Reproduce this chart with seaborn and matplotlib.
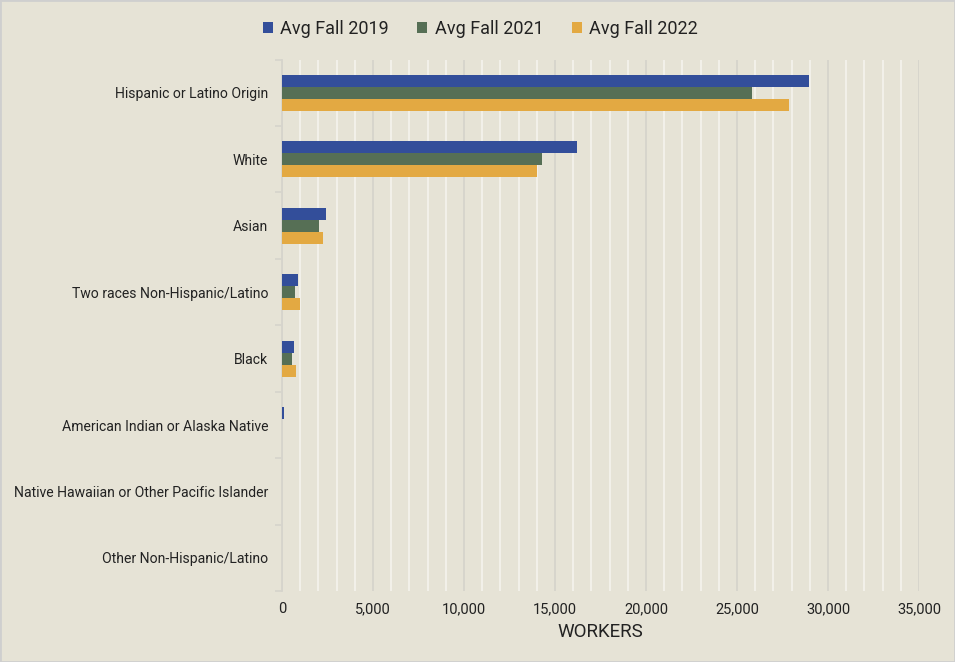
import matplotlib
matplotlib.use("Agg")
import matplotlib.pyplot as plt
from matplotlib.ticker import MultipleLocator, FuncFormatter, FixedLocator
from matplotlib.patches import Rectangle
import seaborn as sns
import pandas as pd

categories = [
    "Hispanic or Latino Origin",
    "White",
    "Asian",
    "Two races Non-Hispanic/Latino",
    "Black",
    "American Indian or Alaska Native",
    "Native Hawaiian or Other Pacific Islander",
    "Other Non-Hispanic/Latino",
]
series_names = ["Avg Fall 2019", "Avg Fall 2021", "Avg Fall 2022"]
fall_2019 = [28950, 16200, 2420, 870, 640, 110, 0, 0]
fall_2021 = [25820, 14270, 2050, 740, 550, 0, 0, 0]
fall_2022 = [27830, 14020, 2250, 980, 770, 0, 0, 0]
palette = ["#334E9A", "#566F55", "#E3A942"]

rows = []
for name, vals in zip(series_names, [fall_2019, fall_2021, fall_2022]):
    for cat, v in zip(categories, vals):
        rows.append({"category": cat, "series": name, "workers": v})
df = pd.DataFrame(rows)

bg = "#E6E3D6"
sns.set_theme(style="white")
plt.rcParams["font.family"] = ["Roboto", "DejaVu Sans"]

fig = plt.figure(figsize=(9.55, 6.62), dpi=100, facecolor=bg)
ax = fig.add_axes([0.2953, 0.107, 0.667, 0.803])
ax.set_facecolor(bg)

sns.barplot(
    data=df, y="category", x="workers", hue="series",
    order=categories, hue_order=series_names, palette=palette,
    orient="h", width=0.54, saturation=1, errorbar=None, ax=ax,
    linewidth=0, edgecolor="none",
)

ax.set_xlim(0, 35000)
ax.set_ylim(len(categories) - 0.5, -0.5)
ax.xaxis.set_major_locator(MultipleLocator(5000))
ax.xaxis.set_minor_locator(MultipleLocator(1000))
ax.xaxis.set_major_formatter(FuncFormatter(lambda v, p: f"{int(v):,}"))
ax.grid(True, axis="x", which="minor", color="#F4F2EC", linewidth=1.3)
ax.grid(True, axis="x", which="major", color="#D6D4CC", linewidth=1.3)
ax.set_axisbelow(True)

ax.yaxis.set_minor_locator(FixedLocator([i - 0.5 for i in range(len(categories) + 1)]))
ax.tick_params(axis="y", which="minor", length=5, color="#D6D4CC", width=1.2, left=True)
ax.tick_params(axis="y", which="major", length=0, pad=10, labelsize=10.1, labelcolor="#222222")
ax.tick_params(axis="x", which="both", length=0, pad=8, labelsize=10.5, labelcolor="#222222")

for side in ["top", "right", "bottom"]:
    ax.spines[side].set_visible(False)
ax.spines["left"].set_color("#D6D4CC")
ax.spines["left"].set_linewidth(1.3)
ax.spines["left"].set_zorder(0.5)

ax.set_ylabel("")
ax.set_xlabel("WORKERS", fontsize=13.5, color="#222222", labelpad=5)

handles, labels = ax.get_legend_handles_labels()
ax.legend_.remove()
fig.legend(
    handles, labels, loc="upper center", bbox_to_anchor=(0.503, 0.995),
    ncol=3, frameon=False, fontsize=13, handlelength=0.55, handleheight=0.55,
    columnspacing=1.6, handletextpad=0.4, labelcolor="#222222",
)

fig.patches.append(Rectangle((0, 0), 1, 1, transform=fig.transFigure,
                             fill=False, edgecolor="#CFCFCF", linewidth=2))

fig.savefig("out.png", dpi=100, facecolor=bg)
